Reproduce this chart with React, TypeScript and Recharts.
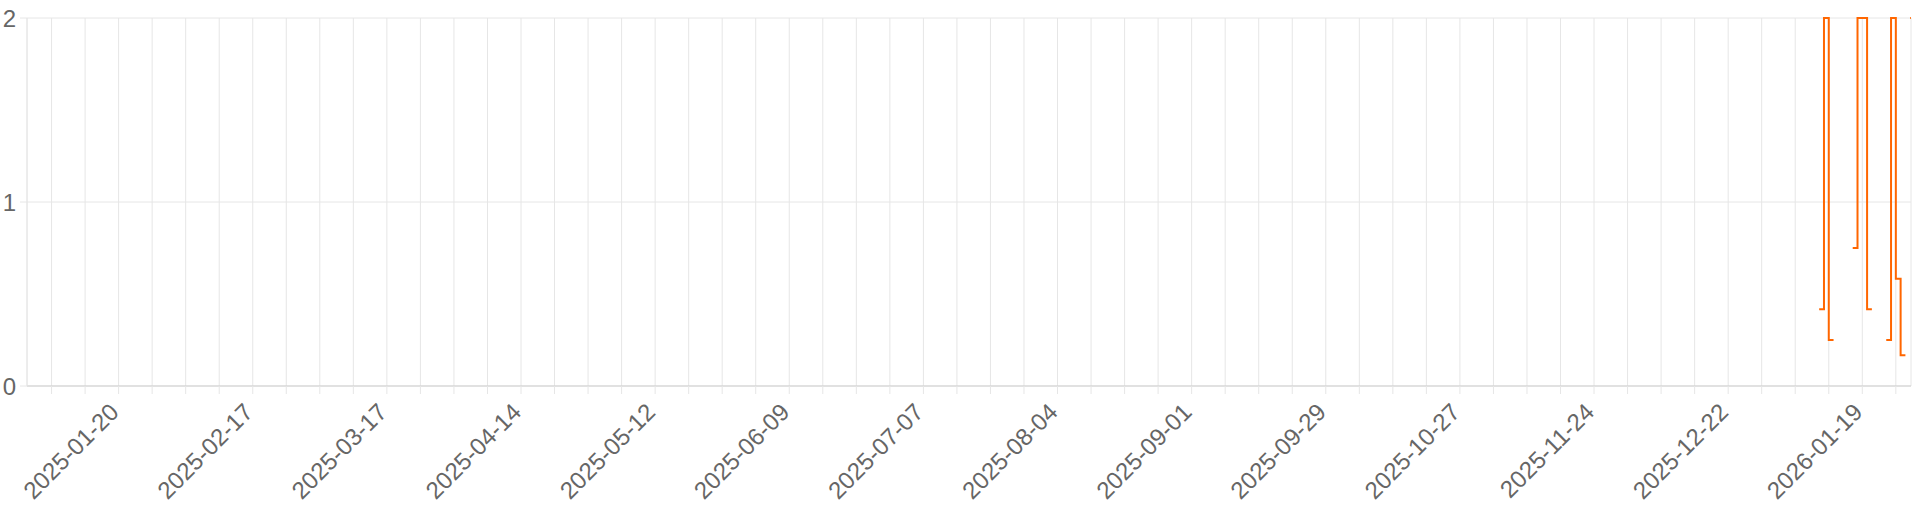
import React from "react";
import { LineChart, Line, XAxis, YAxis, CartesianGrid } from "recharts";

// ---- data ----
const pointDates: string[] = [
  "2026-01-10", "2026-01-11", "2026-01-12", "2026-01-13", "2026-01-14",
  "2026-01-17", "2026-01-18", "2026-01-19", "2026-01-20", "2026-01-21", "2026-01-22",
  "2026-01-24", "2026-01-25", "2026-01-26", "2026-01-27", "2026-01-28", "2026-01-28T12:00",
  "2026-01-29", "2026-01-30",
];
const pointValues: (number | null)[] = [
  0.417, 2, 0.25, 0.25, null,
  0.75, 2, 2, 0.417, 0.417, null,
  0.25, 2, 0.583, 0.167, 0.167, null,
  2, 2,
];

const labelDates: string[] = [
  "2025-01-20", "2025-02-17", "2025-03-17", "2025-04-14", "2025-05-12",
  "2025-06-09", "2025-07-07", "2025-08-04", "2025-09-01", "2025-09-29",
  "2025-10-27", "2025-11-24", "2025-12-22", "2026-01-19",
];
const yTicks: number[] = [0, 1, 2];
const domainStart = "2024-12-31T21:00";
const domainEnd = "2026-01-29T04:00";
const firstWeekTick = "2025-01-06";

// ---- helpers ----
const toT = (s: string) =>
  Date.parse(s.length === 10 ? s + "T00:00:00Z" : s + ":00Z");
const DAY = 86400000;
const fmt = (t: number) => new Date(t).toISOString().slice(0, 10);

const xMin = toT(domainStart);
const xMax = toT(domainEnd);
const weekTicks: number[] = [];
for (let t = toT(firstWeekTick); t <= xMax; t += 7 * DAY) weekTicks.push(t);
const labelSet = new Set(labelDates.map(toT));

const data = pointDates.map((d, i) => ({ t: toT(d), v: pointValues[i] }));

const FONT = "'Liberation Sans', Arial, Helvetica, sans-serif";
const GRID = "#e6e6e6";
const FS = 24;

const XTick = (props: any) => {
  const { x, y, payload } = props;
  if (!labelSet.has(payload.value)) return <g />;
  const ax = x - 4;
  return (
    <text
      x={ax}
      y={y}
      transform={`rotate(-45 ${ax} ${y})`}
      textAnchor="end"
      dy="0.33em"
      fill="#666"
      fontSize={FS}
      fontFamily={FONT}
    >
      {fmt(payload.value)}
    </text>
  );
};

export default function App() {
  return (
    <div>
      <style>{`body{margin:0;}`}</style>
      <LineChart
        width={1920}
        height={512}
        data={data}
        margin={{ top: 18, right: 9, bottom: 0, left: 0 }}
      >
        <CartesianGrid stroke={GRID} />
        <XAxis
          dataKey="t"
          type="number"
          scale="linear"
          domain={[xMin, xMax]}
          allowDataOverflow
          ticks={weekTicks}
          interval={0}
          height={126}
          tickSize={8}
          tickMargin={14}
          tick={<XTick />}
          tickLine={{ stroke: GRID }}
          axisLine={{ stroke: "#cfcfcf" }}
        />
        <YAxis
          type="number"
          domain={[0, 2]}
          ticks={yTicks}
          interval={0}
          width={27}
          tickSize={7}
          tickMargin={4}
          tick={{ fill: "#666", fontSize: FS, fontFamily: FONT }}
          tickLine={{ stroke: GRID }}
          axisLine={{ stroke: GRID }}
        />
        <Line
          type="stepAfter"
          dataKey="v"
          stroke="#ff6600"
          strokeWidth={2}
          dot={false}
          activeDot={false}
          connectNulls={false}
          isAnimationActive={false}
        />
      </LineChart>
    </div>
  );
}
